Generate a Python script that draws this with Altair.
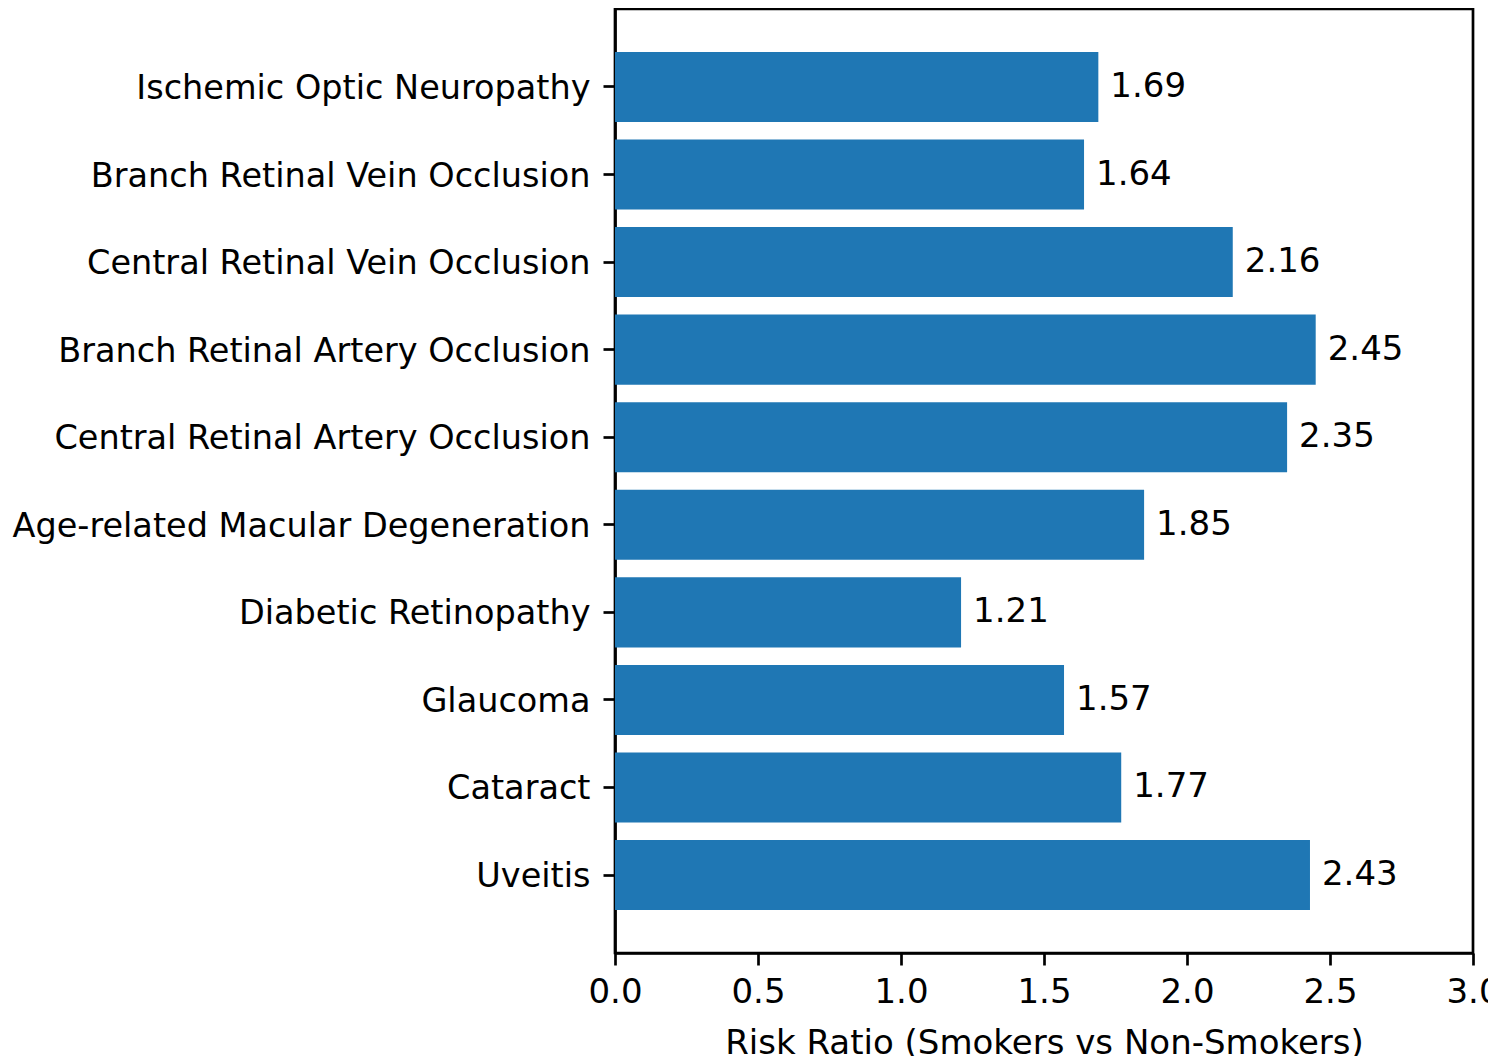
import altair as alt
import pandas as pd

conditions = [
    "Ischemic Optic Neuropathy",
    "Branch Retinal Vein Occlusion",
    "Central Retinal Vein Occlusion",
    "Branch Retinal Artery Occlusion",
    "Central Retinal Artery Occlusion",
    "Age-related Macular Degeneration",
    "Diabetic Retinopathy",
    "Glaucoma",
    "Cataract",
    "Uveitis",
]
risk_ratios = [1.69, 1.64, 2.16, 2.45, 2.35, 1.85, 1.21, 1.57, 1.77, 2.43]
x_ticks = [0.0, 0.5, 1.0, 1.5, 2.0, 2.5, 3.0]

df = pd.DataFrame({"Condition": conditions, "RiskRatio": risk_ratios})

FONT = "DejaVu Sans"

y_enc = alt.Y(
    "Condition:N",
    sort=conditions,
    scale=alt.Scale(paddingInner=0.2, paddingOuter=0.49),
    axis=alt.Axis(
        title=None,
        labelFont=FONT,
        labelFontSize=33.5,
        labelColor="black",
        labelPadding=13,
        labelOffset=2,
        labelLimit=800,
        tickColor="black",
        tickSize=12,
        tickWidth=2.7,
        domainColor="black",
        domainWidth=2.7,
    ),
)

x_enc = alt.X(
    "RiskRatio:Q",
    scale=alt.Scale(domain=[0, 3], nice=False),
    axis=alt.Axis(
        values=x_ticks,
        format=".1f",
        grid=False,
        title="Risk Ratio (Smokers vs Non-Smokers)",
        titleFont=FONT,
        titleFontSize=34,
        titleFontWeight="normal",
        titleColor="black",
        titlePadding=17,
        labelFont=FONT,
        labelFontSize=34,
        labelColor="black",
        labelPadding=10,
        labelFlush=False,
        tickColor="black",
        tickSize=12,
        tickWidth=2.7,
        domainColor="black",
        domainWidth=2.7,
    ),
)

bars = alt.Chart(df).mark_bar(color="#1f77b4", strokeWidth=0).encode(x=x_enc, y=y_enc)

labels = alt.Chart(df).mark_text(
    align="left", baseline="middle", dx=12, fontSize=34, font=FONT, color="black"
).encode(
    x=alt.X("RiskRatio:Q"),
    y=alt.Y("Condition:N", sort=conditions),
    text=alt.Text("RiskRatio:Q", format=".2f"),
)

chart = (
    (bars + labels)
    .properties(
        width=858,
        height=944,
        autosize=alt.AutoSizeParams(type="none"),
        padding={"left": 607, "top": 1, "right": 15, "bottom": 103},
    )
    .configure_view(stroke="black", strokeWidth=2.7)
)

chart.save("out.html", embed_options={"renderer": "svg", "actions": False})
